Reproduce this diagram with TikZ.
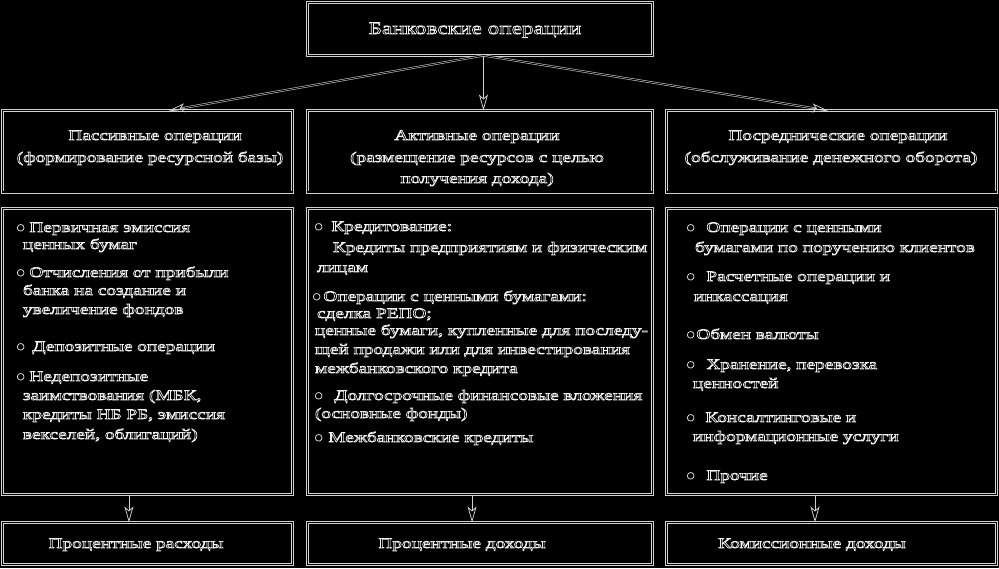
\documentclass[tikz,border=0pt]{standalone}
\usepackage{fontspec}
\setmainfont{Liberation Serif}
\newfontfamily\wfont{Liberation Serif}[FakeStretch=1.33]
\newfontfamily\symf{DejaVu Sans}
\usetikzlibrary{arrows.meta,calc}
\definecolor{lg}{gray}{0.82}
\definecolor{tg}{gray}{0.95}
\newcommand{\bult}[1][5pt]{\raisebox{2pt}{\symf\fontsize{8.5}{8.5}\selectfont ●}\hspace{#1}}
\tikzset{
  box/.style={draw=lg, double=black, double distance=1.6pt, line width=0.7pt,
              inner sep=0pt, outer sep=0pt, anchor=north west},
  shaft/.style={draw=lg, double=black, double distance=1.0pt, line width=0.55pt, shorten >=12pt},
  arrs/.style={draw=lg, line width=0.75pt, -{Stealth[open,length=16pt,width=9pt,inset=4pt]}},
  txt/.style={text=tg, inner sep=0pt, outer sep=0pt, anchor=base west,
              font=\wfont\fontsize{14.5}{18}\selectfont,
              execute at begin node={\special{pdf:literal direct 1 Tr 0.7 w}},
              execute at end node={\special{pdf:literal direct 0 Tr}}},
  txtc/.style={txt, anchor=base},
}
\begin{document}
\begin{tikzpicture}[x=1pt,y=-1pt]
\fill[black] (0,0) rectangle (999,568);
\useasboundingbox (0,0) rectangle (999,568);
% boxes
\node[box, minimum width=345pt, minimum height=53pt] (top) at (307.5,2.5) {};
\node[box, minimum width=290pt, minimum height=81.5pt] (p1) at (2.5,110.5) {};
\node[box, minimum width=345pt, minimum height=81.5pt] (p2) at (307.5,110.5) {};
\node[box, minimum width=330pt, minimum height=81.5pt] (p3) at (666.5,110.5) {};
\node[box, minimum width=290pt, minimum height=286pt] (q1) at (2.5,208.5) {};
\node[box, minimum width=345pt, minimum height=286pt] (q2) at (307.5,208.5) {};
\node[box, minimum width=330pt, minimum height=286pt] (q3) at (666.5,208.5) {};
\node[box, minimum width=290pt, minimum height=42pt] (r1) at (2.5,522.5) {};
\node[box, minimum width=345pt, minimum height=42pt] (r2) at (307.5,522.5) {};
\node[box, minimum width=330pt, minimum height=42pt] (r3) at (666.5,522.5) {};
% arrows from the top box
\coordinate (s0) at ($(top.south west)!0.51!(top.south east)$);
\coordinate (a1) at ($(p1.north west)!0.574!(p1.north east)$);
\coordinate (a2) at ($(p2.north west)!0.51!(p2.north east)$);
\coordinate (a3) at ($(p3.north west)!0.489!(p3.north east)$);
\draw[shaft] (s0) -- (a1);
\draw[arrs] ($(a1)!16pt!(s0)$) -- (a1);
\draw[arrs] (s0) -- (a2);
\draw[shaft] (s0) -- (a3);
\draw[arrs] ($(a3)!16pt!(s0)$) -- (a3);
% arrows down
\coordinate (d1) at ($(q1.south west)!0.436!(q1.south east)$);
\coordinate (d2) at ($(q2.south west)!0.477!(q2.south east)$);
\coordinate (d3) at ($(q3.south west)!0.45!(q3.south east)$);
\draw[arrs] (d1) -- (d1 |- r1.north);
\draw[arrs] (d2) -- (d2 |- r2.north);
\draw[arrs] (d3) -- (d3 |- r3.north);
% texts
\node[txtc, font=\wfont\fontsize{17.5}{20}\selectfont] (t0) at (475,34) {Банковские операции};
\node[txtc] (t11) at (155,140) {Пассивные операции};
\node[txtc] (t12) at (150,162) {(формирование ресурсной базы)};
\node[txtc] (t21) at (477,140) {Активные операции};
\node[txtc] (t22) at (477,162) {(размещение ресурсов с целью};
\node[txtc] (t23) at (477,183) {получения дохода)};
\node[txtc] (t31) at (838,140) {Посреднические операции};
\node[txtc] (t32) at (831,162) {(обслуживание денежного оборота)};
% left column
\node[txt] (l1) at (17,232) {\bult Первичная эмиссия};
\node[txt] (l2) at (23,249) {ценных бумаг};
\node[txt] (l3) at (17,277) {\bult Отчисления от прибыли};
\node[txt] (l4) at (23,295) {банка на создание и};
\node[txt] (l5) at (23,314) {увеличение фондов};
\node[txt] (l6) at (17,351) {\bult[8pt]Депозитные операции};
\node[txt] (l7) at (17,381) {\bult Недепозитные};
\node[txt] (l8) at (23,400) {заимствования (МБК,};
\node[txt] (l9) at (23,419) {кредиты НБ РБ, эмиссия};
\node[txt] (l10) at (23,439) {векселей, облигаций)};
% middle column
\node[txt] (m1) at (315,231) {\bult[9pt]Кредитование:};
\node[txt] (m2) at (333,252) {Кредиты предприятиям и физическим};
\node[txt] (m3) at (317,272) {лицам};
\node[txt] (m4) at (313,301) {\bult[3pt]Операции с ценными бумагами:};
\node[txt] (m5) at (317,318) {сделка РЕПО;};
\node[txt] (m6) at (315,335) {ценные бумаги, купленные для последу-};
\node[txt] (m7) at (315,354) {щей продажи или для инвестирования};
\node[txt] (m8) at (315,373) {межбанковского кредита};
\node[txt] (m9) at (315,400) {\bult[12pt]Долгосрочные финансовые вложения};
\node[txt] (m10) at (315,418) {(основные фонды)};
\node[txt] (m11) at (315,442) {\bult[6pt]Межбанковские кредиты};
% right column
\node[txt] (g1) at (687,232) {\bult[12pt]Операции с ценными};
\node[txt] (g2) at (695,252) {бумагами по поручению клиентов};
\node[txt] (g3) at (687,281) {\bult[12pt]Расчетные операции и};
\node[txt] (g4) at (694,301) {инкассация};
\node[txt] (g5) at (687,339) {\bult[2pt]Обмен валюты};
\node[txt] (g6) at (687,369) {\bult[12pt]Хранение, перевозка};
\node[txt] (g7) at (693,388) {ценностей};
\node[txt] (g8) at (687,422) {\bult[11pt]Консалтинговые и};
\node[txt] (g9) at (693,441) {информационные услуги};
\node[txt] (g10) at (687,480) {\bult[12pt]Прочие};
% bottom
\node[txtc] (b1) at (136,548) {Процентные расходы};
\node[txtc] (b2) at (462,548) {Процентные доходы};
\node[txtc] (b3) at (812,548) {Комиссионные доходы};
\end{tikzpicture}
\end{document}
